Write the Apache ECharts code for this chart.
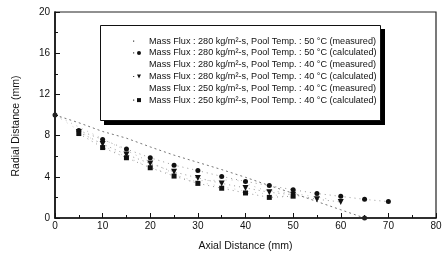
<!DOCTYPE html>
<html>
<head>
<meta charset="utf-8">
<script src="https://cdn.jsdelivr.net/npm/echarts@6/dist/echarts.min.js"></script>
<style>
  html, body { margin: 0; padding: 0; background: #fff; }
  #chart { width: 445px; height: 257px; }
</style>
</head>
<body>
<div id="chart"></div>
<script>
// values (axial distance in mm, radial distance in mm)
const seriesNames = [
  'Mass Flux : 280 kg/m²-s, Pool Temp. : 50 °C (measured)',
  'Mass Flux : 280 kg/m²-s, Pool Temp. : 50 °C (calculated)',
  'Mass Flux : 280 kg/m²-s, Pool Temp. : 40 °C (measured)',
  'Mass Flux : 280 kg/m²-s, Pool Temp. : 40 °C (calculated)',
  'Mass Flux : 250 kg/m²-s, Pool Temp. : 40 °C (measured)',
  'Mass Flux : 250 kg/m²-s, Pool Temp. : 40 °C (calculated)'
];

const meas280_50_x = [0, 5, 10, 15, 20, 25, 30, 35, 40, 45, 50, 55, 60, 65];
const meas280_50_y = [10, 9.25, 8.4, 7.75, 6.9, 6.1, 5.4, 4.7, 3.95, 3.15, 2.4, 1.6, 0.8, 0];

const calc280_50_x = [5, 10, 15, 20, 25, 30, 35, 40, 45, 50, 55, 60, 65, 70];
const calc280_50_y = [8.5, 7.62, 6.69, 5.85, 5.13, 4.6, 4.04, 3.55, 3.15, 2.74, 2.38, 2.1, 1.81, 1.59];

const meas280_40_x = [0, 12.5, 22, 28, 38, 44, 50, 58];
const meas280_40_y = [10, 7.1, 5.0, 3.6, 3.7, 2.7, 2.4, 1.8];

const calc280_40_x = [5, 10, 15, 20, 25, 30, 35, 40, 45, 50, 55, 60];
const calc280_40_y = [8.35, 7.18, 6.16, 5.29, 4.48, 3.89, 3.36, 2.92, 2.5, 2.25, 1.82, 1.56];

const meas250_40_x = [0, 10, 20, 30, 40, 50];
const meas250_40_y = [10, 7.0, 4.9, 3.5, 2.6, 2.0];

const calc250_40_x = [5, 10, 15, 20, 25, 30, 35, 40, 45, 50];
const calc250_40_y = [8.2, 6.84, 5.85, 4.88, 4.07, 3.36, 2.89, 2.43, 2.0, 2.12];

const xTicks = [0, 10, 20, 30, 40, 50, 60, 70, 80];
const yTicks = [0, 4, 8, 12, 16, 20];

function pairs(xs, ys) {
  return xs.map((x, i) => [x, ys[i]]);
}

const chart = echarts.init(document.getElementById('chart'), null, { renderer: 'canvas' });

const font = 'Liberation Sans, Arial, sans-serif';

function calcSeries(name, xs, ys, symbol, size, rotate) {
  return {
    name: name,
    type: 'line',
    data: pairs(xs, ys),
    symbol: symbol,
    symbolSize: size,
    symbolRotate: rotate || 0,
    itemStyle: { color: '#111' },
    lineStyle: { color: '#9a9a9a', width: 1, type: [1, 4] },
    z: 3
  };
}

// legend keys: a single dot then the marker; measured 40 °C rows show nothing
const legendData = seriesNames.map((name, i) => {
  if (i === 0) {
    return { name: name, itemStyle: { opacity: 0 }, lineStyle: { color: '#444', width: 1.2, type: [1.2, 30] } };
  }
  if (i === 2 || i === 4) {
    return { name: name, itemStyle: { opacity: 0 }, lineStyle: { opacity: 0 } };
  }
  return { name: name, lineStyle: { color: '#444', width: 1.2, type: [1.2, 30] } };
});

const option = {
  backgroundColor: '#fff',
  animation: false,
  grid: {
    left: 55, right: 9, top: 12, bottom: 31,
    show: true, borderColor: '#222', borderWidth: 1.2
  },
  graphic: [
    {
      // heavy drop shadow of the key box
      type: 'rect',
      left: 104, top: 29,
      shape: { width: 281, height: 96 },
      style: { fill: '#000' },
      z: 5
    },
    {
      // the key box itself
      type: 'rect',
      left: 100, top: 25,
      shape: { width: 280, height: 95 },
      style: { fill: '#fff', stroke: '#111', lineWidth: 1 },
      z: 6
    }
  ],
  legend: {
    orient: 'vertical',
    left: 100, top: 25,
    padding: [11.6, 4, 16.6, 32],
    itemGap: 2.8,
    itemWidth: 12,
    itemHeight: 5,
    z: 10,
    textStyle: { fontFamily: font, fontSize: 9.1, color: '#111', padding: [0, 0, 0, -1] },
    data: legendData
  },
  xAxis: {
    type: 'value',
    min: 0, max: 80, interval: 10,
    name: 'Axial Distance (mm)',
    nameLocation: 'middle',
    nameGap: 23,
    nameTextStyle: { fontFamily: font, fontSize: 10.5, color: '#111' },
    axisLine: { onZero: false, lineStyle: { color: '#111', width: 1.6 } },
    axisTick: { inside: true, length: 5, lineStyle: { color: '#111' } },
    minorTick: { show: true, splitNumber: 2, length: 3, lineStyle: { color: '#111' } },
    axisLabel: {
      fontFamily: font, fontSize: 10, color: '#111', margin: 3,
      formatter: v => xTicks.includes(v) ? String(v) : ''
    },
    splitLine: { show: false }
  },
  yAxis: {
    type: 'value',
    min: 0, max: 20, interval: 4,
    name: 'Radial Distance (mm)',
    nameLocation: 'middle',
    nameGap: 33,
    nameTextStyle: { fontFamily: font, fontSize: 10.5, color: '#111', padding: [0, 0, 0, -22] },
    axisLine: { onZero: false, lineStyle: { color: '#111', width: 1.6 } },
    axisTick: { inside: true, length: 5, lineStyle: { color: '#111' } },
    minorTick: { show: true, splitNumber: 2, length: 3, lineStyle: { color: '#111' } },
    axisLabel: {
      fontFamily: font, fontSize: 10, color: '#111', margin: 5,
      formatter: v => yTicks.includes(v) ? String(v) : ''
    },
    splitLine: { show: false }
  },
  series: [
    {
      name: seriesNames[0],
      type: 'line',
      data: pairs(meas280_50_x, meas280_50_y).map((p, i, arr) => ({
        value: p,
        symbolSize: (i === 0 || i === arr.length - 1) ? 5 : 0
      })),
      symbol: 'circle',
      itemStyle: { color: '#222' },
      lineStyle: { color: '#777', width: 1, type: [2, 3] },
      z: 2
    },
    calcSeries(seriesNames[1], calc280_50_x, calc280_50_y, 'circle', 5),
    {
      name: seriesNames[2],
      type: 'line',
      data: pairs(meas280_40_x, meas280_40_y),
      showSymbol: false,
      symbol: 'none',
      itemStyle: { color: '#e6e6e6' },
      lineStyle: { color: '#bdbdbd', width: 1, type: [1, 5] },
      z: 1
    },
    calcSeries(seriesNames[3], calc280_40_x, calc280_40_y, 'triangle', 6, 180),
    {
      name: seriesNames[4],
      type: 'line',
      data: pairs(meas250_40_x, meas250_40_y),
      showSymbol: false,
      symbol: 'none',
      itemStyle: { color: '#e6e6e6' },
      lineStyle: { color: '#d0d0d0', width: 1, type: [1, 6] },
      z: 1
    },
    calcSeries(seriesNames[5], calc250_40_x, calc250_40_y, 'rect', 5)
  ]
};

chart.setOption(option);
</script>
</body>
</html>
